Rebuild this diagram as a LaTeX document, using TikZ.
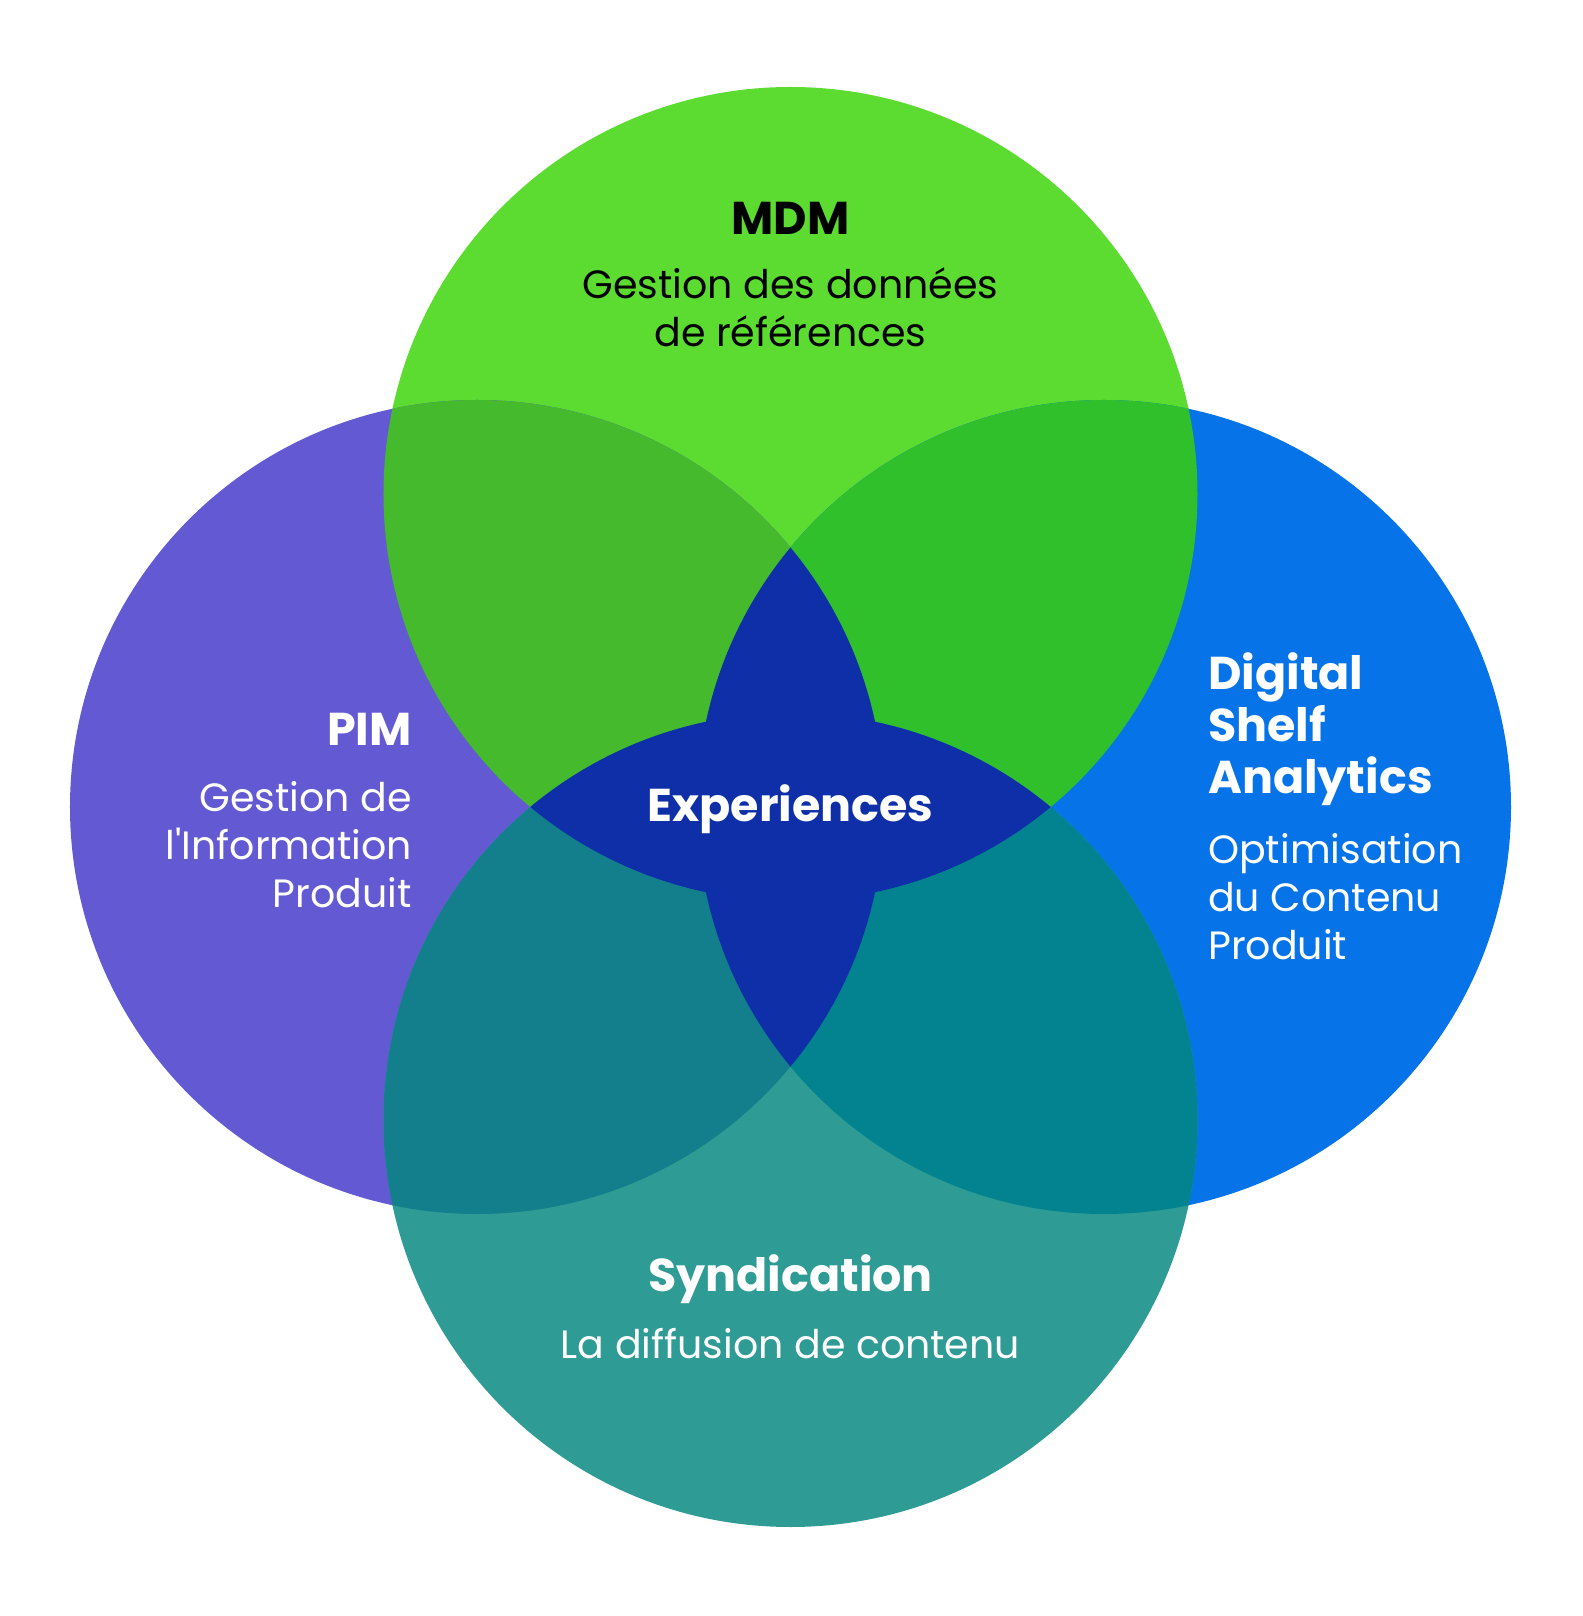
\documentclass[tikz,border=0pt]{standalone}
\usepackage{fontspec}
\setmainfont{Poppins}
\definecolor{mdmgreen}{HTML}{5CDB30}
\definecolor{pimpurple}{HTML}{6359D3}
\definecolor{dsablue}{HTML}{0773E8}
\definecolor{syndteal}{HTML}{2E9B94}
\definecolor{greenleft}{HTML}{45BA2C}
\definecolor{greenright}{HTML}{30C02C}
\definecolor{tealleft}{HTML}{137F8C}
\definecolor{tealright}{HTML}{02838F}
\definecolor{expblue}{HTML}{0F2FA8}
\usetikzlibrary{positioning}

\begin{document}
\begin{tikzpicture}[x=1pt,y=1pt]
  \tikzset{headtext/.style={inner sep=0pt, text=white, font=\fontsize{46}{52}\selectfont\bfseries},
           bodytext/.style={inner sep=0pt, text=white, font=\fontsize{39.5}{48}\selectfont}}
  \useasboundingbox (-790.5,-809) rectangle (791.5,807);

  \coordinate (topc) at (0,313);
  \coordinate (leftc) at (-313.5,0);
  \coordinate (rightc) at (313.5,0);
  \coordinate (bottomc) at (0,-313);

  % circles
  \fill[mdmgreen] (topc) circle (407pt);
  \fill[pimpurple] (leftc) circle (407pt);
  \fill[dsablue] (rightc) circle (407pt);
  \fill[syndteal] (bottomc) circle (407pt);

  % overlaps
  \begin{scope}
    \clip (topc) circle (407pt);
    \fill[greenleft] (leftc) circle (407pt);
    \fill[greenright] (rightc) circle (407pt);
  \end{scope}
  \begin{scope}
    \clip (bottomc) circle (407pt);
    \fill[tealleft] (leftc) circle (407pt);
    \fill[tealright] (rightc) circle (407pt);
  \end{scope}
  \begin{scope}
    \clip (leftc) circle (407pt);
    \fill[expblue] (rightc) circle (407pt);
  \end{scope}
  \begin{scope}
    \clip (topc) circle (407pt);
    \fill[expblue] (bottomc) circle (407pt);
  \end{scope}

  % texts
  \node[headtext, text=black] (mdm) at (0,588.5) {MDM};
  \node[bodytext, text=black, align=center] (mdmdesc) at (0,499.5) {Gestion des données\\de références};

  \node[headtext, anchor=east] (pim) at (-378.5,78) {PIM};
  \node[bodytext, align=right, anchor=east] (pimdesc) at (-378.5,-38) {Gestion de\\l\textquotesingle Information\\Produit};

  \node[headtext, align=left, anchor=west] (dsa) at (417.5,78) {Digital\\Shelf\\Analytics};
  \node[bodytext, align=left, anchor=west] (dsadesc) at (417.5,-90) {Optimisation\\du Contenu\\Produit};

  \node[headtext] (exp) at (0,-2) {Experiences};

  \node[headtext] (synd) at (0,-472) {Syndication};
  \node[bodytext] (synddesc) at (0,-537) {La diffusion de contenu};
\end{tikzpicture}
\end{document}
